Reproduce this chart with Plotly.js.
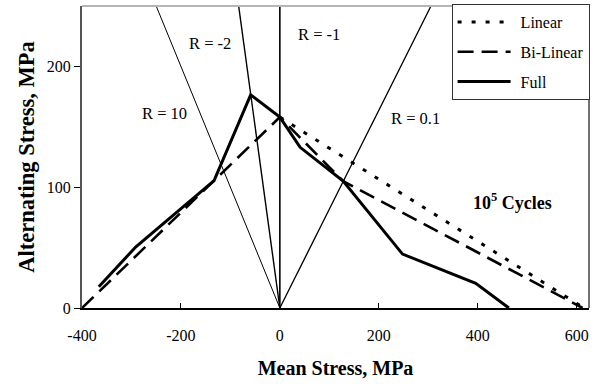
<!DOCTYPE html>
<html>
<head>
<meta charset="utf-8">
<script src="https://cdn.plot.ly/plotly-3.0.1.min.js"></script>
<style>html,body{margin:0;padding:0;background:#fff;}#chart{width:596px;height:385px;}</style>
</head>
<body>
<div id="chart"></div>
<script>
// Constant-life diagram, 10^5 cycles
var linearX = [0, 615];
var linearY = [158, 0];

var bilinearX = [-400, 0, 128, 612];
var bilinearY = [0, 158, 105, 0];

var fullX = [-366, -291, -133, -59, 0, 41, 128, 248, 396, 463];
var fullY = [17.6, 50.7, 105.5, 176.5, 158, 133, 105, 44.6, 20.4, 0];

// R-ratio radial lines (from origin to top of plot)
var rNames = ["R = 10", "R = -2", "R = -1", "R = 0.1"];
var rEndX = [-250, -83.3, 0, 305.6];
var rEndY = [250, 250, 250, 250];
var rWidths = [1, 1.4, 1.6, 1.3];

var labelText = ["R = -2", "R = -1", "R = 10", "R = 0.1", "<b>10<sup>5</sup> Cycles</b>"];
var labelX = [-142, 80, -234, 275, 471];
var labelY = [219, 226, 161, 157, 88];

var xTicks = [-400, -200, 0, 200, 400, 600];
var yTicks = [0, 100, 200];

var FONT = '"Liberation Serif", "Times New Roman", Times, serif';

var traces = [];
for (var i = 0; i < rNames.length; i++) {
  traces.push({
    x: [0, rEndX[i]], y: [0, rEndY[i]], mode: "lines", name: rNames[i],
    showlegend: false, hoverinfo: "skip",
    line: {color: "#000", width: rWidths[i]}
  });
}
traces.push({x: linearX, y: linearY, mode: "lines", name: "Linear", legendgroup: "a",
  line: {color: "#000", width: 3, dash: "4px,10px"}});
traces.push({x: bilinearX, y: bilinearY, mode: "lines", name: "Bi-Linear", legendgroup: "b",
  line: {color: "#000", width: 2.6, dash: "16px,8px"}});
traces.push({x: fullX, y: fullY, mode: "lines", name: "Full", legendgroup: "c",
  line: {color: "#000", width: 3}});

var annotations = [];
for (var j = 0; j < labelText.length; j++) {
  annotations.push({x: labelX[j], y: labelY[j], xref: "x", yref: "y", text: labelText[j],
    showarrow: false, font: {family: FONT, size: (j === 4 ? 18 : 16.5), color: "#000"}});
}

var layout = {
  width: 596, height: 385,
  margin: {l: 82, r: 7, t: 5, b: 77},
  paper_bgcolor: "#fff", plot_bgcolor: "#fff",
  font: {family: FONT, size: 16, color: "#000"},
  showlegend: true,
  legend: {x: 0.729, y: 1.003, xanchor: "left", yanchor: "top",
    bgcolor: "#fff", bordercolor: "#333", borderwidth: 1,
    font: {family: FONT, size: 16, color: "#000"},
    itemwidth: 58, tracegroupgap: 6, traceorder: "grouped"},
  xaxis: {
    range: [-400, 625], tickvals: xTicks, ticktext: xTicks.map(String),
    showgrid: false, zeroline: false,
    showline: true, linecolor: "#000", linewidth: 1.5,
    ticks: "inside", ticklen: 5, tickcolor: "#000", tickwidth: 1,
    ticklabelstandoff: 12,
    tickfont: {family: FONT, size: 16, color: "#000"},
    title: {text: "<b>Mean Stress, MPa</b>", font: {family: FONT, size: 20, color: "#000"}, standoff: 18}
  },
  yaxis: {
    range: [0, 250], tickvals: yTicks, ticktext: yTicks.map(String),
    showgrid: false, zeroline: false,
    showline: true, linecolor: "#555", linewidth: 2,
    ticks: "outside", ticklen: 6, tickcolor: "#000", tickwidth: 1,
    tickfont: {family: FONT, size: 16, color: "#000"},
    title: {text: "<b>Alternating Stress, MPa</b>", font: {family: FONT, size: 22.5, color: "#000"}, standoff: 6}
  },
  shapes: [
    {type: "line", xref: "paper", yref: "paper", x0: 0, x1: 1, y0: 1, y1: 1, line: {color: "#b5b5b5", width: 2}},
    {type: "line", xref: "paper", yref: "paper", x0: 1, x1: 1, y0: 0, y1: 1, line: {color: "#444", width: 1.5}}
  ],
  annotations: annotations
};

Plotly.newPlot("chart", traces, layout, {displayModeBar: false, staticPlot: true}).then(function (gd) {
  // lengthen legend line samples to match the reference's wider key
  var paths = gd.querySelectorAll(".legend .legendlines path");
  for (var k = 0; k < paths.length; k++) { paths[k].setAttribute("d", "M5,0h53"); }
});
</script>
</body>
</html>
